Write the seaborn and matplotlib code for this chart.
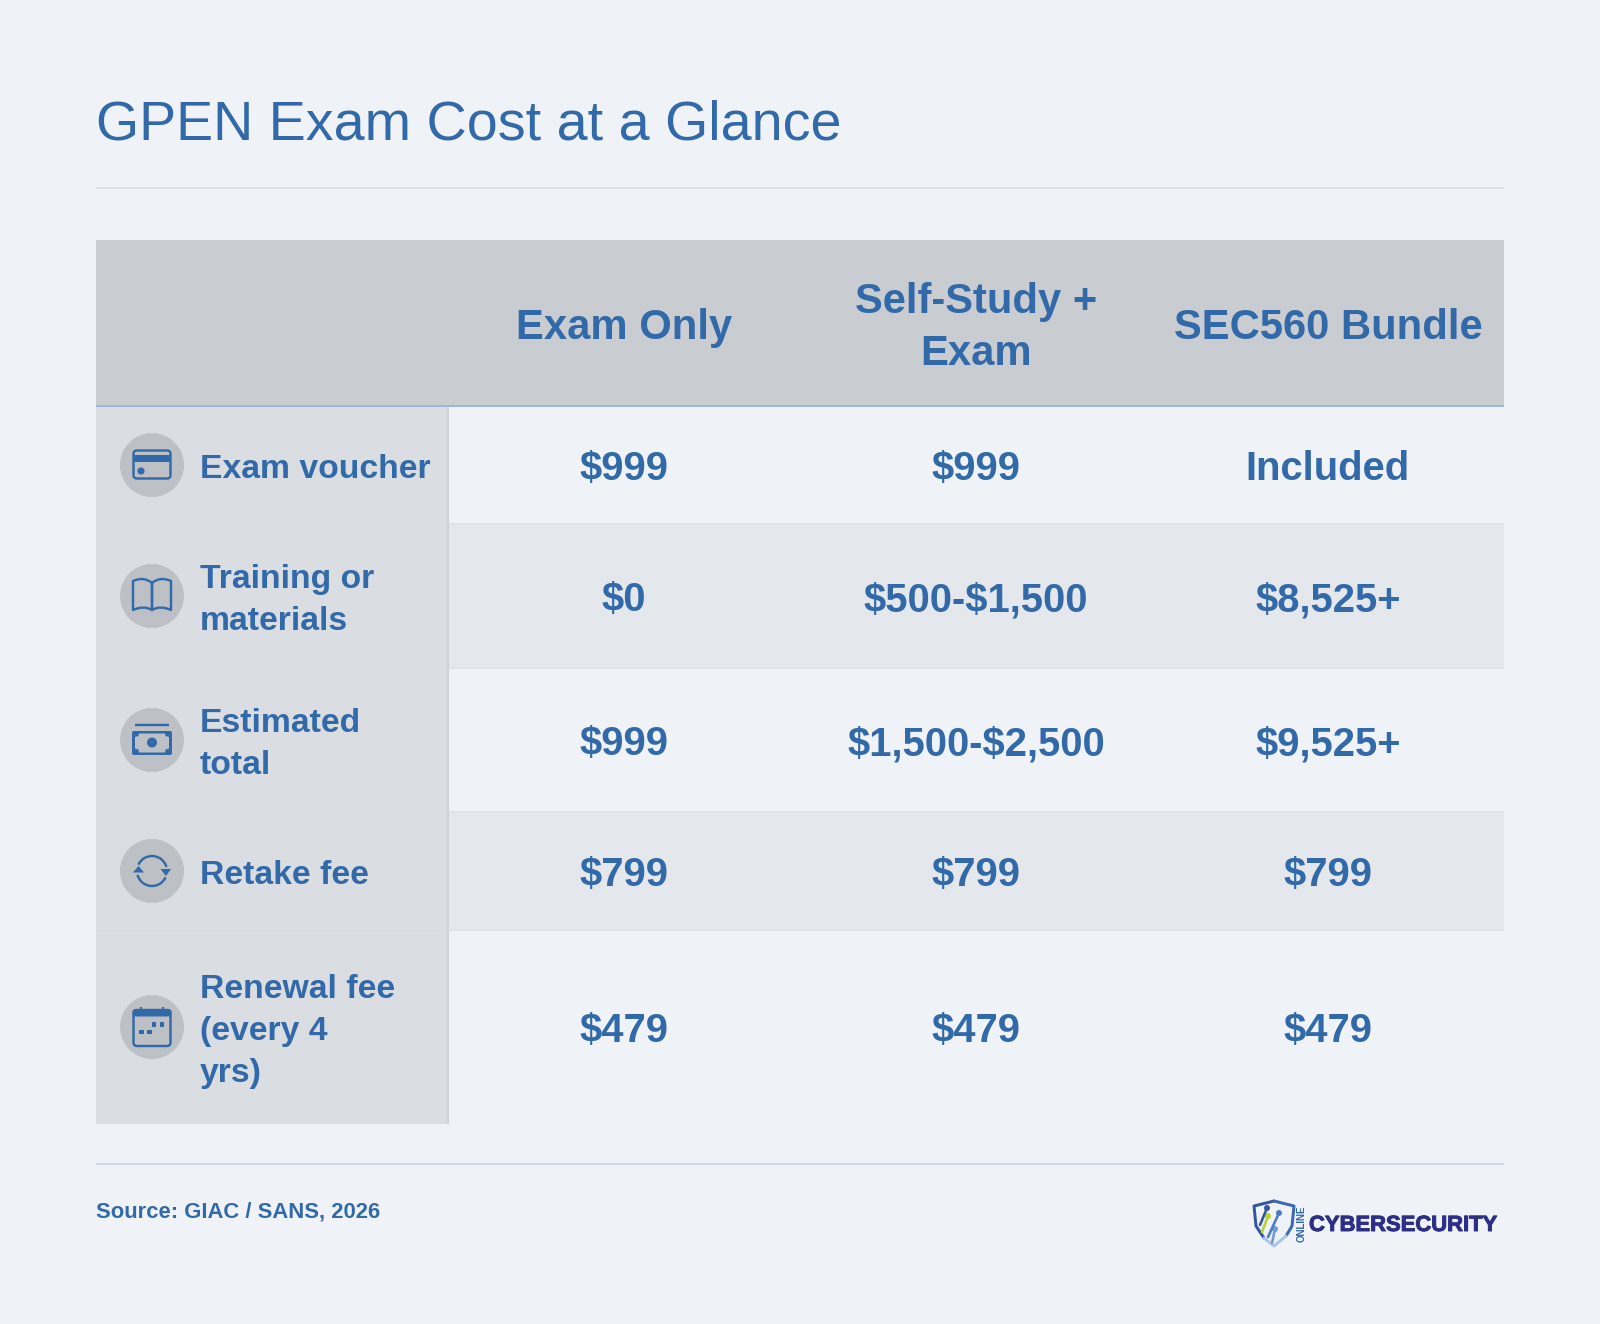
import numpy as np
import matplotlib
matplotlib.use("Agg")
import matplotlib.pyplot as plt
from matplotlib.colors import ListedColormap
from matplotlib.patches import Rectangle, FancyBboxPatch, Circle, PathPatch, Polygon, Arc
from matplotlib.path import Path
from matplotlib.transforms import ScaledTranslation
import matplotlib.patheffects as pe
import seaborn as sns

# ---- content ----
title = "GPEN Exam Cost at a Glance"
columns = ["Exam Only", "Self-Study +\nExam", "SEC560 Bundle"]
row_labels = ["Exam voucher", "Training or\nmaterials", "Estimated\ntotal", "Retake fee", "Renewal fee\n(every 4\nyrs)"]
exam_only = ["$999", "$0", "$999", "$799", "$479"]
self_study = ["$999", "$500-$1,500", "$1,500-$2,500", "$799", "$479"]
sec560 = ["Included", "$8,525+", "$9,525+", "$799", "$479"]
source = "Source: GIAC / SANS, 2026"

# ---- style ----
W, H = 1600, 1324
DPI = 100
BG = "#EFF3F8"; HEAD = "#C9CCD1"; SIDE = "#DADDE2"; BAND = "#E4E7EC"
BLUE = "#3269A8"; NAVY = "#2B2F86"; CIRC = "#BDC0C5"
FONT = "Liberation Sans"
px = 72 / DPI

sns.set_theme(style="white", rc={"figure.facecolor": BG, "savefig.facecolor": BG})
plt.rcParams["font.family"] = [FONT, "DejaVu Sans"]

fig = plt.figure(figsize=(W / DPI, H / DPI), dpi=DPI, facecolor=BG)

L, SPLIT, R = 96, 448, 1504
HEAD_T, HEAD_B = 240, 406
row_edges = [406, 524, 668, 812, 930, 1124]


def add_axes(x0, y0, x1, y1, z=1):
    return fig.add_axes([x0 / W, 1 - y1 / H, (x1 - x0) / W, (y1 - y0) / H], zorder=z)


def cell_row(x0, y0, x1, y1, labels, color, size, spacing=1.2, drop=4.0):
    a = add_axes(x0, y0, x1, y1)
    grid = np.array([labels], dtype=object)
    sns.heatmap(np.zeros((1, len(labels))), ax=a, cmap=ListedColormap([color]), cbar=False,
                annot=grid, fmt="", xticklabels=False, yticklabels=False,
                annot_kws=dict(color=BLUE, fontsize=size * px, fontweight="bold",
                               family=FONT, linespacing=spacing, parse_math=False))
    for t in a.texts:
        t.set_transform(t.get_transform() + ScaledTranslation(0, -drop / DPI, fig.dpi_scale_trans))
    return a


# header and body are one-row heatmaps so the row heights can differ
cell_row(L, HEAD_T, SPLIT, HEAD_B, [""], HEAD, 42)
cell_row(SPLIT, HEAD_T, R, HEAD_B, columns, HEAD, 41.8, 1.40, drop=5)
cell_row(L, HEAD_B, SPLIT, row_edges[-1], [""], SIDE, 34)
for i in range(len(row_labels)):
    color = BAND if i % 2 else BG
    cell_row(SPLIT, row_edges[i], R, row_edges[i + 1],
             [exam_only[i], self_study[i], sec560[i]], color, 40)

# overlay in pixel coordinates for rules, labels and icons
ax = add_axes(0, 0, W, H, z=5)
ax.set_xlim(0, W); ax.set_ylim(H, 0); ax.axis("off"); ax.patch.set_alpha(0)

ax.text(L, 126, title, color=BLUE, fontsize=55.7 * px, va="center", ha="left", parse_math=False)
ax.plot([L, R], [188, 188], color="#DCE1E9", lw=2 * px, solid_capstyle="butt")
ax.plot([L, R], [1164, 1164], color="#CBD9EB", lw=2 * px, solid_capstyle="butt")
for e in row_edges[1:-1]:
    ax.plot([SPLIT + 1, R], [e, e], color="#DFE2E7", lw=2 * px, solid_capstyle="butt")
    ax.plot([L, SPLIT], [e, e], color="#D8DBE0", lw=1 * px, solid_capstyle="butt")
ax.plot([SPLIT, SPLIT], [407, 1124], color="#CFD2D7", lw=2 * px, solid_capstyle="butt")
ax.plot([L, R], [406, 406], color="#9DB8DC", lw=2 * px, solid_capstyle="butt")

centers = [465, 596, 740, 871, 1027]
for lab, cy in zip(row_labels, centers):
    ax.text(200, cy + 4.5, lab, color=BLUE, fontsize=33.8 * px, fontweight="bold",
            va="center", ha="left", linespacing=1.47)
    ax.add_patch(Circle((152, cy), 32, fc=CIRC, ec="none"))

lw = 2.4 * px
# card
cy = centers[0]
ax.add_patch(FancyBboxPatch((133.5, cy - 14.5), 37, 28, boxstyle="round,pad=0,rounding_size=3.5",
                            fc="none", ec=BLUE, lw=lw))
ax.add_patch(Rectangle((133, cy - 10), 38, 6.5, fc=BLUE, ec="none"))
ax.add_patch(Circle((141, cy + 6), 3.6, fc=BLUE, ec="none"))
# book
cy = centers[1]
for s in (-1, 1):
    verts = [(152, cy - 13), (152 + s * 8, cy - 20), (152 + s * 19, cy - 15),
             (152 + s * 19, cy + 14), (152 + s * 8, cy + 9), (152, cy + 14), (152, cy - 13)]
    codes = [Path.MOVETO, Path.CURVE3, Path.CURVE3, Path.LINETO, Path.CURVE3, Path.CURVE3, Path.LINETO]
    ax.add_patch(PathPatch(Path(verts, codes), fc="none", ec=BLUE, lw=lw, joinstyle="round"))
# money
cy = centers[2]
ax.plot([135, 169], [cy - 15, cy - 15], color=BLUE, lw=lw, solid_capstyle="butt")
ax.add_patch(FancyBboxPatch((132, cy - 9), 40, 24, boxstyle="round,pad=0,rounding_size=2", fc=BLUE, ec="none"))
ax.add_patch(Polygon([(139, cy - 6.5), (165, cy - 6.5), (165.5, cy - 4), (169, cy - 3), (169, cy + 8.5), (165.5, cy + 9.5),
                      (165, cy + 12.5), (139, cy + 12.5), (138.5, cy + 9.5), (135, cy + 8.5), (135, cy - 3), (138.5, cy - 4)],
                     fc=CIRC, ec="none"))
ax.add_patch(Circle((152, cy + 2.5), 5, fc=BLUE, ec="none"))
# cycle
cy = centers[3]
ax.add_patch(Arc((152, cy), 30, 30, theta1=205, theta2=345, ec=BLUE, lw=lw))
ax.add_patch(Arc((152, cy), 30, 30, theta1=25, theta2=165, ec=BLUE, lw=lw))
ax.add_patch(Polygon([(133, cy + 1.5), (144, cy + 1.5), (138.5, cy - 5)], fc=BLUE, ec="none"))
ax.add_patch(Polygon([(160.5, cy - 2), (171, cy - 2), (166, cy + 5)], fc=BLUE, ec="none"))
# calendar
cy = centers[4]
ax.add_patch(FancyBboxPatch((133.5, cy - 17), 37, 36, boxstyle="round,pad=0,rounding_size=3.5",
                            fc="none", ec=BLUE, lw=lw))
ax.add_patch(FancyBboxPatch((132.5, cy - 18), 39, 7.5, boxstyle="round,pad=0,rounding_size=3", fc=BLUE, ec="none"))
for x in (140.5, 162.5):
    ax.add_patch(Rectangle((x - 1, cy - 20.5), 2, 4, fc=BLUE, ec="none"))
for x, y in [(141.7, 4.7), (149.3, 4.7), (154, -2.7), (162, -2.7)]:
    ax.add_patch(Rectangle((x - 2.4, cy + y - 2.2), 4.8, 4.4, fc=BLUE, ec="none"))

ax.text(L, 1212, source, color=BLUE, fontsize=22 * px, fontweight="bold", va="center", ha="left")

# logo
ax.plot([1274, 1254, 1256, 1264], [1201, 1206, 1226, 1238], color="#34559F", lw=3 * px, solid_joinstyle="round")
ax.plot([1274, 1294, 1292, 1286], [1201, 1206, 1226, 1236], color="#3F66B0", lw=3 * px, solid_joinstyle="round")
ax.plot([1286, 1274, 1264], [1236, 1246, 1238], color="#A9C6EA", lw=3 * px, solid_joinstyle="round")
for (x0, y0, x1, y1, c) in [(1260, 1225, 1267, 1208, "#34559F"),
                            (1262, 1232, 1268, 1216, "#B7D334"),
                            (1268, 1237, 1279, 1213, "#4A7DC4"),
                            (1272, 1243, 1275, 1229, "#6E9AD6")]:
    ax.plot([x0, x1], [y0, y1], color=c, lw=2.6 * px, solid_capstyle="round")
    ax.add_patch(Circle((x1, y1), 3, fc=c, ec="none"))
ax.text(1302, 1224, "ONLINE", color=BLUE, fontsize=9.8 * px, fontweight="bold", rotation=90, va="center", ha="center")
ax.text(1309, 1225.5, "CYBERSECURITY", color=NAVY, fontsize=22 * px, fontweight="bold", va="center", ha="left",
        path_effects=[pe.withStroke(linewidth=0.7, foreground=NAVY)])

fig.savefig("out.png", dpi=DPI, facecolor=BG)
